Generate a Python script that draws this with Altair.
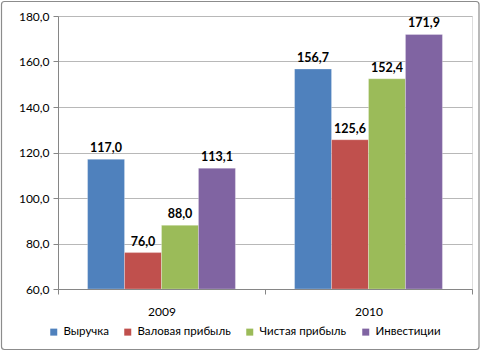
import altair as alt
import pandas as pd

years = ["2009", "2010"]
series = ["Выручка", "Валовая прибыль", "Чистая прибыль", "Инвестиции"]
colors = ["#4F81BD", "#C0504D", "#9BBB59", "#8064A2"]
values_2009 = [117.0, 76.0, 88.0, 113.1]
values_2010 = [156.7, 125.6, 152.4, 171.9]

rows = []
for y, vals in zip(years, [values_2009, values_2010]):
    for s, v in zip(series, vals):
        rows.append({"year": y, "series": s, "value": v})
df = pd.DataFrame(rows)

FONT = "Lato"
fmt = "replace(format(datum.value, '.1f'), '.', ',')"

x_enc = alt.X("year:N", sort=years,
              scale=alt.Scale(paddingInner=0, paddingOuter=0),
              axis=alt.Axis(title=None, labelAngle=0, tickBand="extent", tickSize=5,
                            labelPadding=12, labelFontSize=12, labelColor="#000",
                            domainColor="#868686", tickColor="#868686", labelFont=FONT,
                            zindex=1))
xo = alt.XOffset("series:N", sort=series,
                 scale=alt.Scale(paddingInner=0, paddingOuter=0.8))

base = alt.Chart(df)

bars = base.mark_bar(stroke="#ffffff", strokeOpacity=0.35, strokeWidth=0.8, clip=True).encode(
    x=x_enc,
    xOffset=xo,
    y=alt.Y("value:Q",
            scale=alt.Scale(domain=[60, 180], nice=False, zero=False),
            axis=alt.Axis(title=None, values=[60, 80, 100, 120, 140, 160, 180],
                          labelExpr=fmt, tickSize=5, labelPadding=4,
                          labelFontSize=12, labelColor="#000", labelFont=FONT,
                          gridColor="#b8b8b8", domainColor="#868686",
                          tickColor="#868686")),
    y2=alt.datum(60),
    color=alt.Color("series:N", sort=series,
                    scale=alt.Scale(domain=series, range=colors),
                    legend=alt.Legend(title=None, orient="none", direction="horizontal",
                                      legendX=-10, legendY=310,
                                      symbolType="square", symbolSize=49,
                                      symbolStrokeWidth=0, labelFontSize=11.5,
                                      labelFont=FONT, columnPadding=13,
                                      labelColor="#000")),
)

labels = base.transform_calculate(
    lbl="replace(format(datum.value, '.1f'), '.', ',')"
).mark_text(dy=-11, fontSize=12.5, fontWeight="bold", font=FONT, color="#000").encode(
    x=alt.X("year:N", sort=years),
    xOffset=alt.XOffset("series:N", sort=series),
    y="value:Q",
    text="lbl:N",
)

frame = alt.Chart(pd.DataFrame({"a": [0]})).mark_rect(
    fill=None, stroke="#8c8c8c", strokeWidth=1.2, cornerRadius=3
).encode(x=alt.value(-56.5), x2=alt.value(421), y=alt.value(-14.5), y2=alt.value(333.5))

chart = alt.layer(frame, bars, labels).properties(
    width=414, height=273,
    autosize=alt.AutoSizeParams(type="none"),
    padding={"left": 58, "top": 16, "right": 9, "bottom": 63},
).configure_view(stroke=None).configure(background="#ffffff")

chart.save("out.html", embed_options={"renderer": "svg", "actions": False})
